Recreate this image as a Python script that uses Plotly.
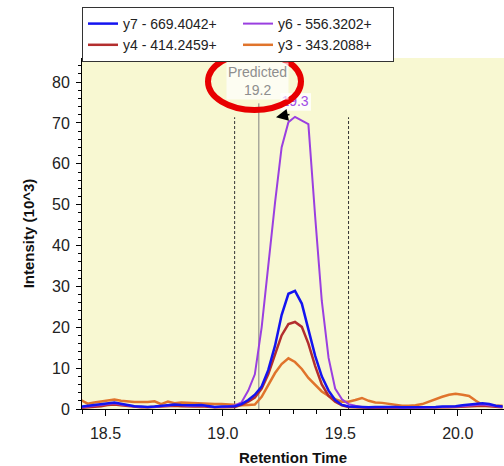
import plotly.graph_objects as go

time = [18.395, 18.424, 18.452, 18.481, 18.509, 18.538, 18.566, 18.595, 18.623, 18.652,
        18.680, 18.709, 18.737, 18.766, 18.794, 18.823, 18.851, 18.880, 18.908, 18.937,
        18.965, 18.994, 19.022, 19.051, 19.079, 19.108, 19.136, 19.165, 19.193, 19.222,
        19.250, 19.279, 19.307, 19.336, 19.364, 19.393, 19.421, 19.450, 19.478, 19.507,
        19.535, 19.564, 19.592, 19.621, 19.649, 19.678, 19.706, 19.735, 19.763, 19.792,
        19.820, 19.849, 19.877, 19.906, 19.934, 19.963, 19.991, 20.020, 20.048, 20.077,
        20.105, 20.134, 20.162, 20.191]

y7 = [0.6, 0.8, 1.0, 1.2, 1.5, 1.6, 1.3, 1.0, 0.7, 0.6, 0.5, 0.6, 0.8, 1.0, 1.1, 1.0, 0.9, 0.9, 1.0, 0.8, 0.5, 0.6,
      0.6, 0.7, 1.2, 2.2, 3.5, 5.5, 9.5, 15.5, 23.0, 28.2, 28.9, 25.8, 19.5, 13.0, 8.0, 4.5, 2.2, 1.0, 0.6,
      0.5, 0.4, 0.4, 0.5, 0.5, 0.6, 0.5, 0.4, 0.4, 0.4, 0.5, 0.5, 0.5, 0.6, 0.6, 0.7, 0.9, 1.1, 1.3, 1.4, 1.2, 0.8, 0.6]

y6 = [0.4, 0.6, 0.8, 1.0, 1.3, 1.4, 1.1, 0.9, 0.6, 0.5, 0.5, 0.5, 0.7, 0.9, 1.0, 1.0, 0.8, 0.8, 0.9, 0.7, 0.5, 0.5,
      0.6, 0.9, 1.6, 4.5, 8.5, 20.0, 35.5, 50.5, 64.0, 70.2, 71.5, 70.5, 69.7, 47.0, 26.5, 12.5, 5.0, 2.4, 1.2,
      0.8, 0.5, 0.4, 0.4, 0.4, 0.5, 0.4, 0.3, 0.3, 0.3, 0.4, 0.4, 0.4, 0.5, 0.5, 0.6, 0.7, 0.9, 1.0, 1.1, 0.9, 0.6, 0.5]

y4 = [0.3, 0.4, 0.6, 0.7, 1.0, 1.1, 0.9, 0.7, 0.5, 0.4, 0.4, 0.5, 0.6, 0.7, 0.8, 0.7, 0.6, 0.6, 0.7, 0.5, 0.4, 0.4,
      0.4, 0.5, 1.0, 1.8, 2.8, 5.0, 8.5, 13.5, 18.0, 20.8, 21.3, 20.1, 16.0, 10.5, 6.0, 3.2, 1.8, 0.9, 0.5,
      0.4, 0.3, 0.3, 0.3, 0.3, 0.4, 0.3, 0.3, 0.3, 0.3, 0.3, 0.3, 0.4, 0.4, 0.4, 0.5, 0.6, 0.7, 0.8, 0.8, 0.7, 0.5, 0.4]

y3 = [2.2, 1.3, 1.6, 1.8, 2.1, 2.3, 2.0, 1.8, 1.7, 1.7, 1.7, 1.9, 1.2, 1.8, 1.4, 1.6, 1.5, 1.4, 1.3, 1.3, 1.2, 1.2,
      1.1, 0.9, 0.9, 1.0, 1.1, 3.0, 6.0, 8.8, 11.0, 12.4, 11.5, 9.8, 7.6, 5.8, 4.3, 3.2, 2.4, 1.8, 1.8,
      2.2, 2.7, 2.0, 1.6, 1.5, 1.3, 1.0, 0.8, 0.8, 0.9, 1.2, 1.8, 2.5, 3.0, 3.5, 3.7, 3.5, 3.2, 2.0, 1.0, 0.8, 0.8, 0.8]

series_names = ["y7 - 669.4042+", "y6 - 556.3202+", "y4 - 414.2459+", "y3 - 343.2088+"]
series_colors = ["#1414f0", "#9a3fe0", "#b32e2e", "#e0742c"]
series_widths = [2.5, 2.0, 2.5, 2.5]
series_values = [y7, y6, y4, y3]
legend_ranks = [1, 2, 3, 4]

boundary_left = 19.05
boundary_right = 19.535
predicted_rt = 19.153
predicted_label = "Predicted<br>19.2"
apex_rt = 19.307
apex_label = "19.3"

FONT = "Liberation Sans, Arial, sans-serif"

fig = go.Figure()
# draw orange first, blue last (on top)
for i in [3, 2, 1, 0]:
    fig.add_trace(go.Scatter(
        x=time, y=series_values[i], mode="lines", name=series_names[i],
        line=dict(color=series_colors[i], width=series_widths[i]),
        legendrank=legend_ranks[i]))

# apex label as text trace so the ellipse shape can sit above it
fig.add_trace(go.Scatter(x=[apex_rt], y=[75.0], mode="text", text=[apex_label],
                         textfont=dict(color="#a24ee6", size=14, family=FONT),
                         showlegend=False, hoverinfo="skip"))

shapes = [
    dict(type="rect", xref="x", yref="y", x0=19.245, x1=19.375, y0=73.0, y1=77.3,
         fillcolor="rgba(255,255,255,0.85)", line=dict(width=0), layer="below"),
    dict(type="line", xref="x", yref="y", x0=boundary_left, x1=boundary_left, y0=0, y1=71.4,
         line=dict(color="#333333", width=1, dash="3px,2px"), layer="below"),
    dict(type="line", xref="x", yref="y", x0=boundary_right, x1=boundary_right, y0=0, y1=71.4,
         line=dict(color="#333333", width=1, dash="3px,2px"), layer="below"),
    dict(type="line", xref="x", yref="y", x0=predicted_rt, x1=predicted_rt, y0=0, y1=74.8,
         line=dict(color="#808080", width=1), layer="below"),
    dict(type="circle", xref="paper", yref="paper",
         x0=(208 - 82) / 422, x1=(301 - 82) / 422,
         y0=(409 - 110) / 351, y1=(409 - 53) / 351,
         line=dict(color="#e80000", width=6), layer="above"),
]

annotations = [
    dict(x=19.146, y=80.3, xref="x", yref="y", text=predicted_label, showarrow=False,
         font=dict(color="#8e8e8e", size=14, family=FONT),
         bgcolor="rgba(255,255,255,0.7)", xanchor="center", yanchor="middle", borderpad=1),
    dict(x=19.226, y=71.4, xref="x", yref="y", text="", showarrow=True,
         ax=15, ay=-3, arrowhead=2, arrowsize=1.6, arrowwidth=1.5, arrowcolor="#000000"),
]

fig.update_layout(
    width=504, height=466,
    margin=dict(l=82, r=0, t=58, b=57),
    paper_bgcolor="white", plot_bgcolor="#f8f8d2",
    font=dict(family=FONT, size=16, color="#222222"),
    shapes=shapes, annotations=annotations,
    showlegend=True,
    legend=dict(orientation="h", x=0, xanchor="left", y=1 + 51 / 351, yanchor="top",
                xref="paper", yref="paper",
                entrywidth=110, entrywidthmode="pixels",
                bordercolor="#333333", borderwidth=1, bgcolor="white",
                font=dict(family=FONT, size=14, color="#222222"),
                tracegroupgap=0),
    xaxis=dict(range=[18.40, 20.197], tick0=18.5, dtick=0.5, tickformat=".1f",
               showgrid=False, zeroline=False, showline=True, linecolor="black", linewidth=1,
               ticks="outside", ticklen=6, tickcolor="black", ticklabelstandoff=4,
               minor=dict(dtick=0.1, tick0=18.5, ticks="outside", ticklen=4, tickcolor="black", showgrid=False),
               title=dict(text="<b>Retention Time</b>", font=dict(size=15, family=FONT, color="#111111"),
                          standoff=12)),
    yaxis=dict(range=[0, 85.9], tick0=0, dtick=10,
               showgrid=False, zeroline=False, showline=True, linecolor="black", linewidth=1,
               ticks="outside", ticklen=5, tickcolor="black", ticklabelstandoff=3,
               minor=dict(dtick=2, ticks="outside", ticklen=3, tickcolor="black", showgrid=False),
               title=dict(text="<b>Intensity (10^3)</b>", font=dict(size=15, family=FONT, color="#111111"),
                          standoff=13)),
)

fig.write_html("out.html")
